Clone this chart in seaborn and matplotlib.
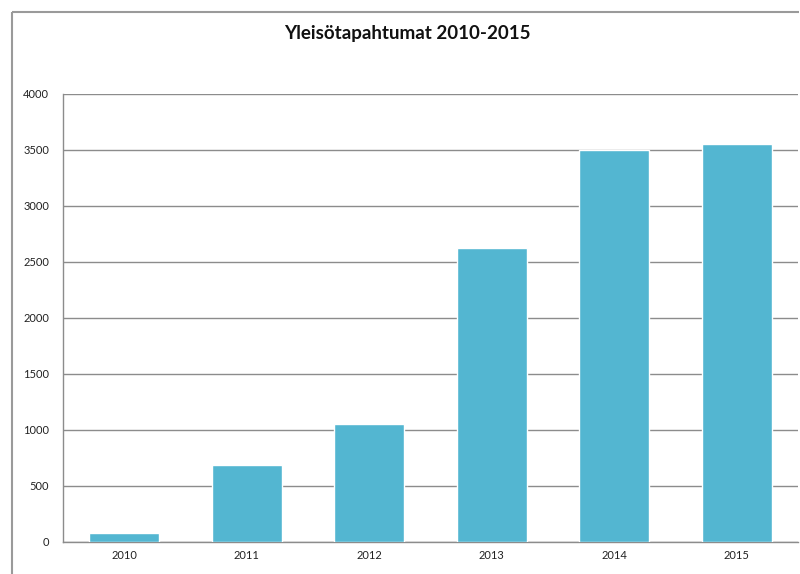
import matplotlib
matplotlib.use("Agg")
import matplotlib.pyplot as plt
import seaborn as sns
import pandas as pd
from matplotlib.lines import Line2D

years = ["2010", "2011", "2012", "2013", "2014", "2015"]
events = [80, 690, 1050, 2625, 3500, 3550]
y_ticks = [0, 500, 1000, 1500, 2000, 2500, 3000, 3500, 4000]

df = pd.DataFrame({"Vuosi": years, "Tapahtumat": events})

sns.set_theme(style="white")
plt.rcParams["font.family"] = ["Lato", "DejaVu Sans"]

fig = plt.figure(figsize=(8, 5.74), dpi=100)
ax = fig.add_axes([63 / 800, 32 / 574, 735 / 800, 448 / 574])

sns.barplot(data=df, x="Vuosi", y="Tapahtumat", color="#53B6D1", saturation=1,
            width=0.57, ax=ax, zorder=3)

ax.set_ylim(0, 4000)
ax.set_yticks(y_ticks)
ax.set_xlim(-0.5, len(years) - 0.5)
ax.yaxis.grid(True, color="#8c8c8c", linewidth=1.0, zorder=0)
ax.set_axisbelow(True)
ax.set_xlabel("")
ax.set_ylabel("")
ax.tick_params(axis="both", length=0, labelsize=8, colors="#222222")
ax.tick_params(axis="y", pad=10)
ax.tick_params(axis="x", pad=6)

for side in ["top", "right"]:
    ax.spines[side].set_visible(False)
for side in ["left", "bottom"]:
    ax.spines[side].set_color("#8c8c8c")
    ax.spines[side].set_linewidth(1.0)

# outer chart frame (top and left edges visible)
frame_y = 1 - 12 / 574
frame_x = 12 / 800
fig.lines.append(Line2D([frame_x, 799 / 800], [frame_y, frame_y], transform=fig.transFigure,
                        color="#9a9a9a", linewidth=1.5, solid_capstyle="butt"))
fig.lines.append(Line2D([frame_x, frame_x], [0.0, frame_y], transform=fig.transFigure,
                        color="#9a9a9a", linewidth=1.5, solid_capstyle="butt"))

fig.text(407 / 800, 1 - 33 / 574, "Yleisötapahtumat 2010-2015", ha="center",
         va="center", fontsize=13.5, fontweight="bold", color="#111111")

fig.savefig("out.png", dpi=100)
